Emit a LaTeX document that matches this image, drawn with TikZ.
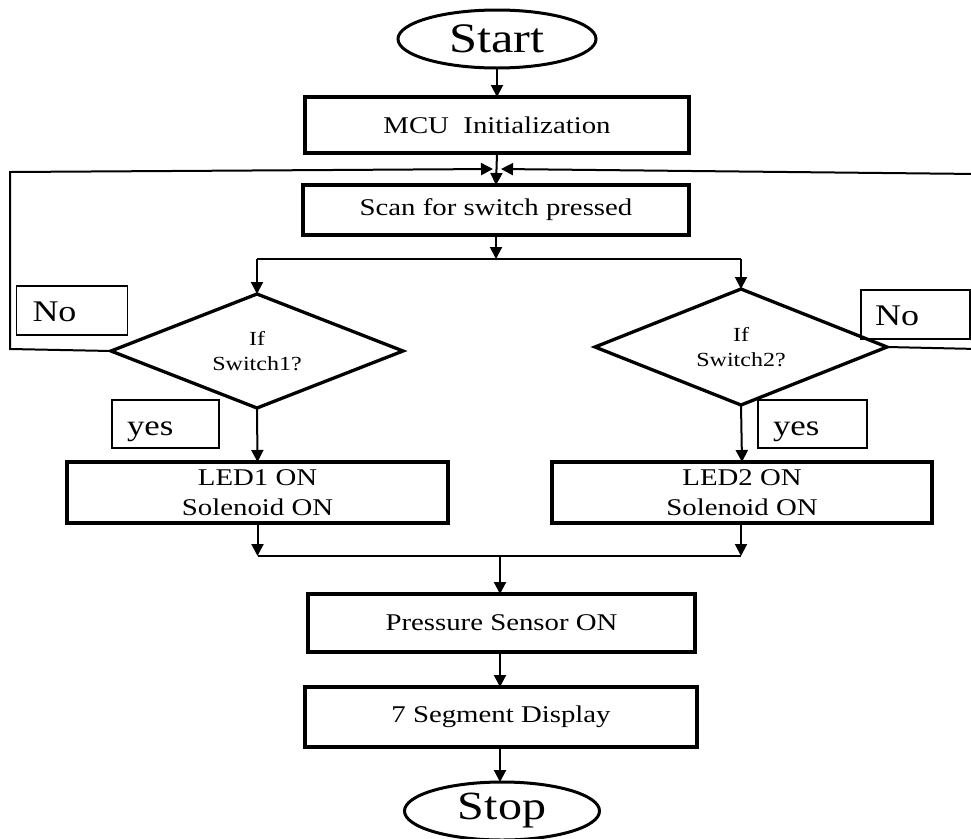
\documentclass[tikz,border=0pt]{standalone}
\usepackage{fontspec}
\setmainfont{Liberation Serif}[FakeStretch=1.2]
\usetikzlibrary{shapes.geometric,arrows.meta}
\newcommand{\fsz}[2]{\fontsize{#1}{#2}\selectfont}
\begin{document}
\begin{tikzpicture}[x=1pt,y=-1pt,
  every node/.style={inner sep=0pt,outer sep=0pt},
  terminal/.style={ellipse,draw,line width=3pt},
  process/.style={rectangle,draw,line width=3.6pt,align=center,font=\fsz{24}{30}},
  decision/.style={diamond,draw,line width=3.3pt,align=center,font=\fsz{20}{25}},
  tag/.style={rectangle,draw,line width=1.9pt,align=left,text height=22pt,text depth=0pt},
  flow/.style={line width=2pt,-{Triangle[length=12pt,width=12pt]}},
  wire/.style={line width=2pt}]
\clip (0,0) rectangle (971,838);
\fill[white] (0,0) rectangle (971,838);

% terminals
\node[terminal,minimum width=198pt,minimum height=58pt,font=\fsz{42}{48}] (start) at (497,39) {Start};
\node[terminal,minimum width=195pt,minimum height=58pt,font=\fsz{40}{46}] (stop) at (502,811) {Stop};

% process boxes
\node[process,minimum width=384pt,minimum height=56pt] (mcu) at (497,125) {MCU\ \ Initialization};
\node[process,minimum width=386pt,minimum height=50pt] (scan) at (496,210) {Scan for switch pressed};
\node[process,minimum width=381pt,minimum height=61pt] (led1) at (257.5,492.5) {LED1 ON\\Solenoid ON};
\node[process,minimum width=380pt,minimum height=61pt] (led2) at (742,492.5) {LED2 ON\\Solenoid ON};
\node[process,minimum width=387pt,minimum height=58pt] (pres) at (501.5,623) {Pressure Sensor ON};
\node[process,minimum width=392pt,minimum height=60pt] (seg) at (501,717) {7 Segment Display};

% decisions
\node[decision,minimum width=292pt,minimum height=114pt,aspect=2.56] (d1) at (257,351) {If\\Switch1?};
\node[decision,minimum width=292pt,minimum height=116pt,aspect=2.52] (d2) at (741,347) {If\\Switch2?};

% branch tags
\node[tag,minimum width=110pt,minimum height=49pt,text width=79pt,inner xsep=16pt,font=\fsz{30}{34}] (no1) at (72,310.5) {No};
\node[tag,minimum width=107pt,minimum height=48pt,text width=77pt,inner xsep=15pt,font=\fsz{29}{33}] (yes1) at (165.5,424) {yes};
\node[tag,minimum width=109pt,minimum height=49pt,text width=81pt,inner xsep=14pt,font=\fsz{30}{34}] (no2) at (915.5,314.5) {No};
\node[tag,minimum width=109pt,minimum height=48pt,text width=79pt,inner xsep=15pt,font=\fsz{29}{33}] (yes2) at (812.5,424) {yes};

% junction points
\coordinate (joinL) at (493,169);
\coordinate (joinR) at (501,169);
\coordinate (split) at (496,259);
\coordinate (splitL) at (257,259);
\coordinate (splitR) at (741,259);
\coordinate (mergeL) at (257.5,556);
\coordinate (mergeR) at (741,556);
\coordinate (merge) at (500,556);

% main flow
\draw[flow] (start.south) -- (mcu.north);
\draw[flow] (mcu.south) -- (scan.north);
\draw[flow] (scan.south) -- (split);
\draw[wire] (splitL) -- (splitR);
\draw[flow] (splitL) -- (d1.north);
\draw[flow] (splitR) -- (d2.north);
\draw[flow] (d1.south) -- (led1.north);
\draw[flow] (d2.south) -- (led2.north);
\draw[flow] (led1.south) -- (mergeL);
\draw[flow] (led2.south -| mergeR) -- (mergeR);
\draw[wire] (mergeL) -- (mergeR);
\draw[flow] (merge) -- (pres.north -| merge);
\draw[flow] (pres.south -| merge) -- (seg.north -| merge);
\draw[flow] (seg.south -| merge) -- (stop.north -| merge);

% "No" loops back to the scan step
\draw[flow] (d1.west) -- (10,349) -- (10,172) -- (joinL);
\draw[flow] (d2.east) -- (978,349) -- (978,174) -- (joinR);
\end{tikzpicture}
\end{document}
